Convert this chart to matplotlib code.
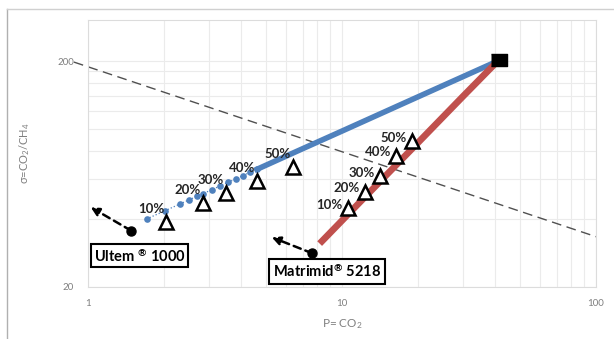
import matplotlib
matplotlib.use('Agg')
import matplotlib.pyplot as plt
from matplotlib.lines import Line2D

plt.rcParams['font.family'] = ['Lato', 'DejaVu Sans']
plt.rcParams['mathtext.default'] = 'regular'

# Ultem blend (dotted part, single points)
blue_dot_x = [1.70, 2.01, 2.30, 2.50, 2.69, 2.84, 3.08, 3.31, 3.56, 3.83, 4.08, 4.34, 4.63]
blue_dot_y = [40.0, 43.5, 46.6, 48.6, 50.5, 51.8, 54.0, 56.0, 58.1, 60.3, 62.3, 64.3, 66.4]
# Ultem blend (dense part, looks solid)
blue_line_x = [4.63, 6.6, 10.0, 16.6, 27.0, 41.0]
blue_line_y = [66.4, 79.5, 98.0, 126.7, 162.0, 200.0]
# Matrimid blend
red_x = [8.34, 12.0, 20.0, 30.0, 41.0]
red_y = [31.9, 48.6, 87.5, 139.9, 200.0]
# filler
filler_x = [41.5]
filler_y = [202.0]
# measured points
tri_blue_x = [2.03, 2.84, 3.48, 4.64, 6.40]
tri_blue_y = [38.9, 46.9, 52.0, 58.9, 68.1]
tri_red_x = [10.53, 12.28, 14.11, 16.27, 18.86]
tri_red_y = [44.6, 52.8, 61.9, 76.2, 88.5]
pct_labels = ['10%', '20%', '30%', '40%', '50%']
# pure polymers
ultem_pt = (1.48, 35.5)
ultem_arrow = (1.025, 45.1)
matrimid_pt = (7.64, 28.2)
matrimid_arrow = (5.29, 33.2)
# upper bound line
bound_x = [0.88, 100]
bound_y = [198, 33.4]

fig = plt.figure(figsize=(6.14, 3.39), dpi=100)
ax = fig.add_axes([0.1433, 0.1534, 0.8274, 0.7876])
ax.set_xscale('log')
ax.set_yscale('log')
ax.set_xlim(1, 100)
ax.set_ylim(20, 304)

# grid like excel
ax.set_xticks([1, 10, 100])
ax.set_xticklabels(['1', '10', '100'])
ax.set_xticks([2, 3, 4, 5, 6, 7, 8, 9, 20, 30, 40, 50, 60, 70, 80, 90], minor=True)
ax.set_yticks([20, 200])
ax.set_yticklabels(['20', '200'])
ax.set_yticks([40, 60, 80, 100, 120, 140, 160, 180], minor=True)
ax.yaxis.set_minor_formatter(plt.NullFormatter())
ax.xaxis.set_minor_formatter(plt.NullFormatter())
ax.grid(True, which='both', color='#ebebeb', lw=0.8)
ax.set_axisbelow(True)
ax.tick_params(which='both', length=0, labelsize=7, labelcolor='#7f7f7f')
ax.tick_params(axis='y', pad=10)
ax.tick_params(axis='x', pad=9)
for s in ax.spines.values():
    s.set_color('#dcdcdc')
    s.set_linewidth(0.8)

ax.plot(bound_x, bound_y, ls=(0, (7, 4)), color='#505050', lw=1.0, clip_on=False, zorder=2)

ax.plot(blue_dot_x, blue_dot_y, ls=':', lw=0.9, color='#4f81bd', marker='o', ms=4.8, mec='none', zorder=3)
ax.plot(blue_line_x, blue_line_y, '-', lw=4.0, color='#4f81bd', zorder=3)
ax.plot(red_x, red_y, '-', lw=4.8, color='#c0504d', zorder=3)

rect = [(-1.45, -1), (1.45, -1), (1.45, 1), (-1.45, 1)]
ax.plot(filler_x, filler_y, ls='none', marker=rect, ms=11.5, color='black', zorder=5, clip_on=False)

ax.plot(tri_blue_x, tri_blue_y, ls='none', marker='^', ms=10, mfc='white', mec='black', mew=1.8, zorder=4)
ax.plot(tri_red_x, tri_red_y, ls='none', marker='^', ms=10, mfc='white', mec='black', mew=1.8, zorder=4)

for i in range(5):
    ax.annotate(pct_labels[i], (tri_blue_x[i], tri_blue_y[i]), xytext=(-11, 9.5), textcoords='offset points',
                ha='center', va='center', fontsize=9.5, fontweight='bold', color='#262626', zorder=6)
    ax.annotate(pct_labels[i], (tri_red_x[i], tri_red_y[i]), xytext=(-13, 2.5), textcoords='offset points',
                ha='center', va='center', fontsize=9.5, fontweight='bold', color='#262626', zorder=6)

for pt, tip in [(ultem_pt, ultem_arrow), (matrimid_pt, matrimid_arrow)]:
    ax.plot([pt[0]], [pt[1]], 'o', color='black', ms=6.5, zorder=5)
    ax.annotate('', xy=tip, xytext=pt,
                arrowprops=dict(arrowstyle='-|>,head_length=0.5,head_width=0.25', color='black',
                                lw=1.8, linestyle=(0, (3, 2)), shrinkA=0, shrinkB=0),
                annotation_clip=False, zorder=5)

ax.text(1.595, 27.57, 'Ultem $^{®}$ 1000', ha='center', va='center', fontsize=10.5, fontweight='bold',
        bbox=dict(boxstyle='square,pad=0.2', fc='white', ec='black', lw=1.5), zorder=6)
ax.text(8.73, 23.5, 'Matrimid$^{®}$ 5218', ha='center', va='center', fontsize=10.5, fontweight='bold',
        bbox=dict(boxstyle='square,pad=0.25', fc='white', ec='black', lw=1.5), zorder=6)

ax.set_xlabel('P= CO$_2$', fontsize=8.5, color='#7f7f7f', labelpad=6)
ax.set_ylabel('σ=CO$_2$/CH$_4$', fontsize=8, color='#7f7f7f', labelpad=18)

# chart border
fig.add_artist(Line2D([7 / 614, 7 / 614], [0, 1 - 9 / 339], color='#b0b0b0', lw=1))
fig.add_artist(Line2D([7 / 614, 1], [1 - 9 / 339, 1 - 9 / 339], color='#d0d0d0', lw=1))

plt.savefig('out.png', dpi=100)
